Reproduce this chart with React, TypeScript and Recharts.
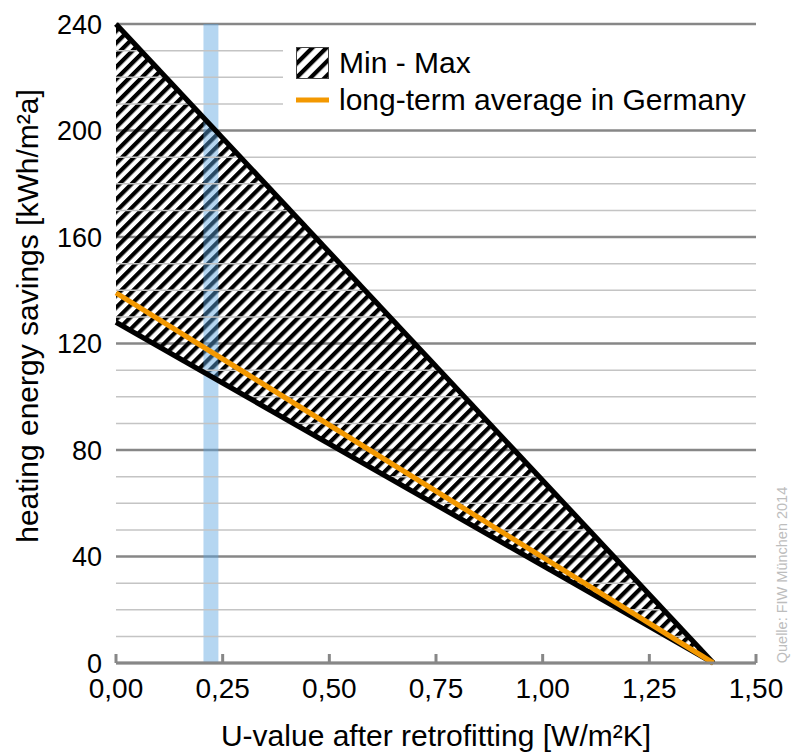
import {
  ComposedChart,
  Area,
  Line,
  XAxis,
  YAxis,
  CartesianGrid,
  ReferenceLine,
  ReferenceArea,
  Legend,
  Label,
} from 'recharts';

const uValues = [0, 1.4];
const maxSavings = [240, 0];
const minSavings = [128, 0];
const avgSavings = [139, 0];

const xTicks = [0, 0.25, 0.5, 0.75, 1, 1.25, 1.5];
const yTicks = [0, 40, 80, 120, 160, 200, 240];
const yMinor = [10, 20, 30, 50, 60, 70, 90, 100, 110, 130, 140, 150, 170, 180, 190, 210, 220, 230];
const targetBand = [0.205, 0.24];

const FONT = '"Liberation Sans", Arial, sans-serif';
const AXIS_GREY = '#878787';

const rows = uValues.map((u, i) => ({
  u,
  max: maxSavings[i],
  min: minSavings[i],
  avg: avgSavings[i],
  range: [minSavings[i], maxSavings[i]],
}));

function fmtU(v: number) {
  return v.toFixed(2).replace('.', ',');
}

function BottomTick({ x, y, payload }: any) {
  return (
    <g>
      <line x1={x} y1={y} x2={x} y2={y - 9} stroke={AXIS_GREY} strokeWidth={3} />
      <text x={x} y={y + 35} textAnchor="middle" fontSize={28} fontFamily={FONT} fill="#000">
        {fmtU(payload.value)}
      </text>
    </g>
  );
}

function TopTick({ x, y }: any) {
  return <line x1={x} y1={y} x2={x} y2={y + 9} stroke={AXIS_GREY} strokeWidth={3} />;
}

function LegendBox() {
  return (
    <div
      style={{
        background: '#fff',
        fontFamily: FONT,
        fontSize: 30,
        color: '#000',
        paddingLeft: 13,
        paddingTop: 8,
        boxSizing: 'border-box',
        width: '100%',
        height: '100%',
      }}
    >
      <div style={{ display: 'flex', alignItems: 'center', height: 34 }}>
        <svg width={34} height={32} style={{ marginRight: 9 }}>
          <defs>
            <pattern
              id="hatchLegend"
              patternUnits="userSpaceOnUse"
              width={10}
              height={10}
              patternTransform="rotate(45)"
            >
              <line x1={2} y1={0} x2={2} y2={10} stroke="#000" strokeWidth={4.5} />
            </pattern>
          </defs>
          <rect x={0.5} y={0.5} width={32} height={31} fill="url(#hatchLegend)" stroke="#444" />
        </svg>
        <span>Min - Max</span>
      </div>
      <div style={{ display: 'flex', alignItems: 'center', height: 40 }}>
        <svg width={34} height={10} style={{ marginRight: 9 }}>
          <line x1={0} y1={5} x2={33} y2={5} stroke="#f39800" strokeWidth={5} />
        </svg>
        <span>long-term average in Germany</span>
      </div>
    </div>
  );
}

export default function App() {
  return (
    <div style={{ position: 'absolute', left: 0, top: 0 }}>
      <ComposedChart
        width={792}
        height={755}
        data={rows}
        margin={{ top: 24, right: 36, left: 0, bottom: 0 }}
        style={{ fontFamily: FONT }}
      >
        <defs>
          <pattern id="hatch" patternUnits="userSpaceOnUse" width={8.5} height={8.5} patternTransform="rotate(45)">
            <line x1={2.1} y1={0} x2={2.1} y2={8.5} stroke="#000" strokeWidth={4.2} />
          </pattern>
        </defs>
        <XAxis
          dataKey="u"
          type="number"
          domain={[0, 1.5]}
          ticks={xTicks}
          interval={0}
          height={92}
          tickSize={0}
          tickMargin={0}
          tickLine={false}
          axisLine={{ stroke: AXIS_GREY, strokeWidth: 3 }}
          tick={<BottomTick />}
        >
          <Label
            value="U-value after retrofitting [W/m²K]"
            position="insideBottom"
            offset={9}
            style={{ fontSize: 30, fill: '#000', fontFamily: FONT }}
          />
        </XAxis>
        <XAxis
          xAxisId="top"
          orientation="top"
          dataKey="u"
          type="number"
          domain={[0, 1.5]}
          ticks={xTicks}
          interval={0}
          height={0}
          tickSize={0}
          tickMargin={0}
          tickLine={false}
          axisLine={{ stroke: AXIS_GREY, strokeWidth: 3 }}
          tick={<TopTick />}
        />
        <YAxis
          type="number"
          domain={[0, 240]}
          ticks={yTicks}
          interval={0}
          width={116}
          tickSize={0}
          tickMargin={14}
          tickLine={false}
          axisLine={false}
          tick={{ fontSize: 27, fill: '#000', fontFamily: FONT }}
        >
          <Label
            content={({ viewBox }: any) => (
              <text
                x={viewBox.x + 38}
                y={316}
                transform={`rotate(-90, ${viewBox.x + 38}, 316)`}
                textAnchor="middle"
                fontSize={30}
                fontFamily={FONT}
                fill="#000"
              >
                heating energy savings [kWh/m²a]
              </text>
            )}
          />
        </YAxis>
        {yMinor.map((v) => (
          <ReferenceLine key={v} y={v} stroke="#c4c4c4" strokeWidth={1.5} />
        ))}
        <CartesianGrid vertical={false} stroke={AXIS_GREY} strokeWidth={2.5} />
        <Area
          type="linear"
          dataKey="range"
          stroke="none"
          fill="url(#hatch)"
          fillOpacity={1}
          isAnimationActive={false}
          legendType="none"
        />
        <Line type="linear" dataKey="max" stroke="#000" strokeWidth={5.2} dot={false} isAnimationActive={false} legendType="none" />
        <Line type="linear" dataKey="min" stroke="#000" strokeWidth={5.2} dot={false} isAnimationActive={false} legendType="none" />
        <Line type="linear" dataKey="avg" stroke="#f39800" strokeWidth={5.2} dot={false} isAnimationActive={false} legendType="none" />
        <ReferenceArea
          x1={targetBand[0]}
          x2={targetBand[1]}
          y1={0}
          y2={240}
          fill="#5aa5e0"
          fillOpacity={0.45}
          stroke="none"
        />
        <Legend
          layout="horizontal"
          verticalAlign="middle"
          align="center"
          content={<LegendBox />}
          wrapperStyle={{ left: 283, top: 38, width: 473, height: 84 }}
        />
        <text
          x={787}
          y={575}
          transform="rotate(-90, 787, 575)"
          textAnchor="middle"
          fontSize={14.5}
          fontFamily={FONT}
          fill="#bdbdbd"
        >
          Quelle: FIW München 2014
        </text>
      </ComposedChart>
    </div>
  );
}
